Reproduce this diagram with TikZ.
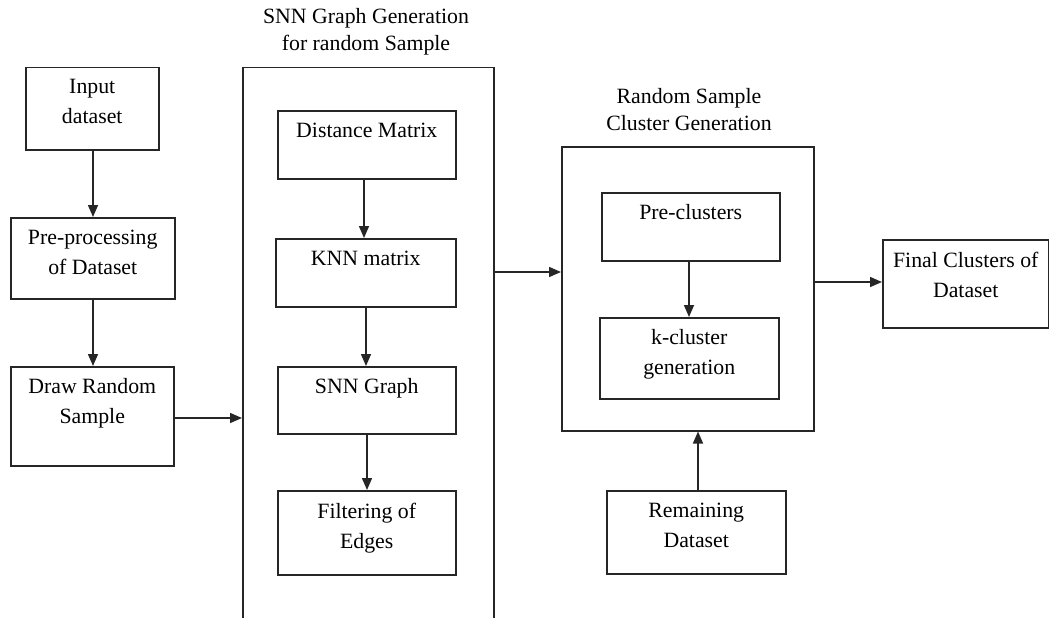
\documentclass[tikz,border=0pt]{standalone}
\usepackage{fontspec}
\setmainfont{Liberation Serif}
\usetikzlibrary{arrows.meta}
\begin{document}
\begin{tikzpicture}[x=1pt,y=-1pt,
  box/.style={draw=black!85, line width=1.5pt, inner sep=0pt, anchor=north west},
  txt/.style={anchor=north, inner sep=0pt, yshift=-12.5pt, align=center, font=\fontsize{21.8}{30}\selectfont},
  ttl/.style={anchor=north, inner sep=0pt, align=center, font=\fontsize{21.8}{27}\selectfont},
  arr/.style={draw=black!85, line width=1.5pt, -{Triangle[length=12pt,width=10pt]}}]
\useasboundingbox (0,0) rectangle (1049,618);
\clip (0,0) rectangle (1049,618);
% left column
\node[box, minimum width=133pt, minimum height=82pt] (inp) at (25,67) {};
\node[txt] (inpT) at (inp.north) {Input\\dataset};
\node[box, minimum width=164pt, minimum height=81pt] (pre) at (10,217) {};
\node[txt] (preT) at (pre.north) {Pre-processing\\of Dataset};
\node[box, minimum width=163pt, minimum height=99pt] (drs) at (10,366) {};
\node[txt] (drsT) at (drs.north) {Draw Random\\Sample};
% SNN block
\node[ttl] (t1) at (366,8) {SNN Graph Generation\\for random Sample};
\node[box, minimum width=251pt, minimum height=580pt] (big) at (242,67) {};
\node[box, minimum width=178pt, minimum height=68pt] (dm) at (277,110) {};
\node[txt] (dmT) at (dm.north) {Distance Matrix};
\node[box, minimum width=180pt, minimum height=68pt] (knn) at (275,238) {};
\node[txt] (knnT) at (knn.north) {KNN matrix};
\node[box, minimum width=178pt, minimum height=67pt] (snn) at (277,366) {};
\node[txt] (snnT) at (snn.north) {SNN Graph};
\node[box, minimum width=178pt, minimum height=84pt] (fil) at (277,490) {};
\node[txt] (filT) at (fil.north) {Filtering of\\Edges};
% cluster block
\node[ttl] (t2) at (689,88) {Random Sample\\Cluster Generation};
\node[box, minimum width=252pt, minimum height=284pt] (cl) at (561,146) {};
\node[box, minimum width=178pt, minimum height=68pt] (pc) at (601,192) {};
\node[txt] (pcT) at (pc.north) {Pre-clusters};
\node[box, minimum width=179pt, minimum height=81pt] (kc) at (599,317) {};
\node[txt] (kcT) at (kc.north) {k-cluster\\generation};
\node[box, minimum width=179pt, minimum height=83pt] (rem) at (606,490) {};
\node[txt] (remT) at (rem.north) {Remaining\\Dataset};
% final
\node[box, minimum width=166pt, minimum height=88pt] (fin) at (882,239) {};
\node[txt] (finT) at (fin.north) {Final Clusters of\\Dataset};
% connectors
\draw[arr] (inp.south -| 93,0) -- (pre.north -| 93,0);
\draw[arr] (pre.south -| 93,0) -- (drs.north -| 93,0);
\draw[arr] (drs.east |- 0,418) -- (big.west |- 0,418);
\draw[arr] (dm.south -| 364,0) -- (knn.north -| 364,0);
\draw[arr] (knn.south -| 366,0) -- (snn.north -| 366,0);
\draw[arr] (snn.south -| 367,0) -- (fil.north -| 367,0);
\draw[arr] (big.east |- 0,272) -- (cl.west |- 0,272);
\draw[arr] (pc.south -| 689,0) -- (kc.north -| 689,0);
\draw[arr] (rem.north -| 698,0) -- (cl.south -| 698,0);
\draw[arr] (cl.east |- 0,282) -- (fin.west |- 0,282);
\end{tikzpicture}
\end{document}
